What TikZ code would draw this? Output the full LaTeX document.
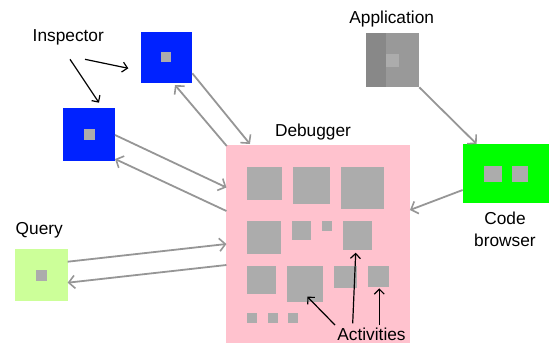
\documentclass[tikz,border=0pt]{standalone}
\usepackage{fontspec}
\setmainfont{Liberation Sans}
\usetikzlibrary{arrows.meta,calc}
\definecolor{inspblue}{RGB}{0,34,255}
\definecolor{dbgpink}{RGB}{255,194,206}
\definecolor{cbgreen}{RGB}{0,255,0}
\definecolor{qgreen}{RGB}{204,255,153}
\definecolor{ingray}{RGB}{172,172,172}
\definecolor{appdark}{RGB}{136,136,136}
\definecolor{applight}{RGB}{153,153,153}
\definecolor{linkgray}{RGB}{150,150,150}
\tikzset{
  box/.style={draw=none,inner sep=0pt,outer sep=0pt},
  sq/.style={box,fill=ingray},
  lbl/.style={inner sep=1pt,font=\fontsize{17.3}{21.5}\selectfont},
  link/.style={draw=linkgray,line width=1.8pt,-{Straight Barb[length=6pt,width=13pt,line width=1.6pt]}},
  pointer/.style={draw=black,line width=1.2pt,-{Straight Barb[length=5pt,width=10pt,line width=1.2pt]}}
}
\begin{document}
\begin{tikzpicture}[x=1pt,y=-1pt]
\useasboundingbox (0,0) rectangle (549,346);
% Debugger
\node[box,fill=dbgpink,minimum width=183.5pt,minimum height=198pt] (dbg) at (318.2,244) {};
\node[lbl] (dbglbl) at (313,132) {Debugger};
% activity squares
\node[sq,minimum width=35pt,minimum height=33.3pt] (a11) at (264.2,183.3) {};
\node[sq,minimum width=37.3pt,minimum height=37.3pt] (a12) at (311.3,185.3) {};
\node[sq,minimum width=43.3pt,minimum height=42.6pt] (a13) at (362.6,188) {};
\node[sq,minimum width=34pt,minimum height=33.3pt] (a21) at (263.7,237.6) {};
\node[sq,minimum width=19.3pt,minimum height=19pt] (a22) at (301.3,230.5) {};
\node[sq,minimum width=10pt,minimum height=9.7pt] (a23) at (326.7,225.8) {};
\node[sq,minimum width=29.6pt,minimum height=29pt] (a24) at (357.5,235.5) {};
\node[sq,minimum width=29.3pt,minimum height=28.3pt] (a31) at (261.3,279.8) {};
\node[sq,minimum width=36.6pt,minimum height=36pt] (a32) at (305,283.7) {};
\node[sq,minimum width=23.3pt,minimum height=22pt] (a33) at (345.6,276.7) {};
\node[sq,minimum width=21.3pt,minimum height=21pt] (a34) at (378.3,276.2) {};
\node[sq,minimum width=10pt,minimum height=10pt] (a41) at (251.7,317.7) {};
\node[sq,minimum width=10pt,minimum height=10pt] (a42) at (272.7,317.7) {};
\node[sq,minimum width=10pt,minimum height=10pt] (a43) at (293.3,317.7) {};
\node[lbl] (act) at (371.5,334.5) {Activities};
% Inspectors
\node[box,fill=inspblue,minimum width=51.6pt,minimum height=51pt] (insp1) at (166.5,57.2) {};
\node[sq,minimum width=10pt,minimum height=10pt] (insp1in) at (166.3,57.3) {};
\node[box,fill=inspblue,minimum width=51.7pt,minimum height=52.4pt] (insp2) at (89.2,134.5) {};
\node[sq,minimum width=10.5pt,minimum height=10.5pt] (insp2in) at (89.3,134.7) {};
\node[lbl] (insplbl) at (68.3,37.3) {Inspector};
% Application
\node[box,fill=applight,minimum width=53.6pt,minimum height=54pt] (app) at (392.5,60.3) {};
\fill[appdark] (app.north west) rectangle ($(app.south west)+(20.3,0)$);
\node[box,fill=ingray,minimum width=13pt,minimum height=12.4pt] (appin) at (392.5,60.5) {};
\node[lbl] (applbl) at (391.7,19.3) {Application};
% Code browser
\node[box,fill=cbgreen,minimum width=86.3pt,minimum height=59.3pt] (code) at (505.8,173.7) {};
\node[sq,minimum width=17.4pt,minimum height=16.3pt] (codein1) at (493,174.2) {};
\node[sq,minimum width=15.4pt,minimum height=16.3pt] (codein2) at (520,174.2) {};
\node[lbl,align=center] (codelbl) at (505,229.5) {Code\\browser};
% Query
\node[box,fill=qgreen,minimum width=52.7pt,minimum height=51.7pt] (query) at (41.3,275.2) {};
\node[sq,minimum width=10.7pt,minimum height=10.7pt] (queryin) at (41.3,275.3) {};
\node[lbl] (querylbl) at (39.3,230) {Query};
% links
\draw[link] ($(insp1.south east)+(0,-9.4)$) -- ($(dbg.north west)+(23.5,-1)$);
\draw[link] ($(dbg.north west)+(0.3,1)$) -- ($(insp1.south)+(8.5,2.3)$);
\draw[link] ($(insp2.east)+(0,0.5)$) -- ($(dbg.west)+(0,-56.5)$);
\draw[link] ($(dbg.west)+(0,-33)$) -- ($(insp2.south east)+(0,-1.7)$);
\draw[link] ($(query.east)+(0,-13.5)$) -- (dbg.west);
\draw[link] ($(dbg.west)+(0,21)$) -- ($(query.east)+(0,7.5)$);
\draw[link] (app.south east) -- ($(code.north west)+(14,0)$);
\draw[link] ($(code.west)+(0,16.3)$) -- ($(dbg.east)+(0,-34)$);
% pointers
\draw[pointer] ($(insplbl.center)+(16.7,22)$) -- ($(insp1.west)+(-12.4,11.1)$);
\draw[pointer] ($(insplbl.center)+(1.7,22)$) -- ($(insp2.north)+(9.8,-5.6)$);
\draw[pointer] ($(act.center)+(-36.5,-9.5)$) -- ($(a32.center)+(2.3,13)$);
\draw[pointer] ($(act.center)+(-18.8,-11.2)$) -- ($(a24.south)+(-1.8,2.7)$);
\draw[pointer] ($(act.center)+(7.8,-9.5)$) -- ($(a34.south)+(1,1.6)$);
\end{tikzpicture}
\end{document}
